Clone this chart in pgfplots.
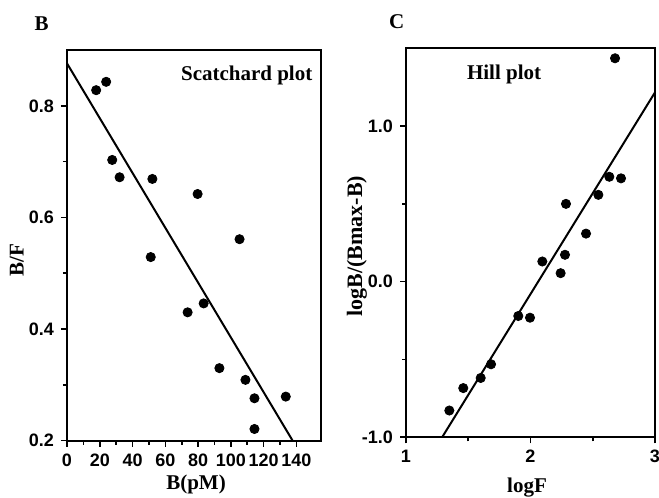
\documentclass[border=0pt]{standalone}
\usepackage{fontspec}
\setmainfont{Liberation Serif}
\newfontfamily\ticksf{Liberation Sans}
\usepackage{pgfplots}
\pgfplotsset{compat=1.18}

% Scatchard plot: B (pM) vs B/F
\pgfplotstableread{
x y
17.8 0.828
23.9 0.843
27.6 0.703
32.1 0.672
52.1 0.669
79.7 0.642
105.3 0.561
51.1 0.529
73.6 0.430
83.4 0.446
93.0 0.330
108.9 0.309
114.4 0.276
114.4 0.221
133.5 0.279
}\scatchard

% Hill plot: logF vs logB/(Bmax-B)
\pgfplotstableread{
x y
2.679 1.434
2.633 0.673
2.727 0.663
2.545 0.557
2.285 0.499
2.446 0.308
2.277 0.172
2.095 0.129
2.242 0.054
1.902 -0.221
1.996 -0.232
1.683 -0.531
1.600 -0.619
1.460 -0.684
1.348 -0.828
}\hill

\pgfplotsset{
  panel/.style={
    scale only axis,
    anchor=south west,
    axis line style={line width=1pt},
    tick align=outside,
    xtick pos=bottom, ytick pos=left,
    major tick length=3pt, minor tick length=2pt,
    every tick/.style={line width=0.8pt, black},
    minor tick num=1,
    /pgf/number format/assume math mode=true,
    tick label style={font=\ticksf\bfseries\fontsize{9}{10}\selectfont},
    label style={font=\bfseries\fontsize{10.5}{12}\selectfont},
    clip=false,
  },
  dots/.style={only marks, mark=*, mark size=2.3pt, black},
  fit/.style={no marks, black, line width=1pt},
}

\begin{document}
\begin{tikzpicture}
\useasboundingbox (0,0) rectangle (329.5pt,249pt);

\begin{axis}[panel,
  at={(33.5pt,28.65pt)}, width=127pt, height=195.35pt,
  xmin=0, xmax=155, ymin=0.2, ymax=0.9,
  xtick={0,20,...,140},
  ytick={0.2,0.4,0.6,0.8},
  yticklabel style={/pgf/number format/.cd, fixed, fixed zerofill, precision=1},
  xlabel={B(pM)}, ylabel={B/F},
  xlabel style={at={(rel axis cs:0.508,-0.113)}, anchor=center},
  ylabel style={at={(rel axis cs:-0.198,0.4625)}, anchor=center},
]
\addplot[dots] table[x=x,y=y] {\scatchard};
\addplot[fit] coordinates {(0,0.876) (137.7,0.2)};
\node[font=\bfseries\fontsize{10.5}{12}\selectfont] at (rel axis cs:0.7075,0.936) {Scatchard plot};
\end{axis}

\begin{axis}[panel,
  at={(203pt,30.35pt)}, width=124.5pt, height=194.65pt,
  xmin=1, xmax=3, ymin=-1, ymax=1.5,
  xtick={1,2,3},
  ytick={-1,0,1},
  yticklabel style={/pgf/number format/.cd, fixed, fixed zerofill, precision=1},
  xlabel={logF}, ylabel={logB/(Bmax-B)},
  xlabel style={at={(rel axis cs:0.486,-0.128)}, anchor=center},
  ylabel style={at={(rel axis cs:-0.197,0.491)}, anchor=center, font=\bfseries\fontsize{11}{12}\selectfont},
]
\addplot[dots] table[x=x,y=y] {\hill};
\addplot[fit] coordinates {(1.29,-1.0) (3.0,1.215)};
\node[font=\bfseries\fontsize{10.5}{12}\selectfont] at (rel axis cs:0.394,0.931) {Hill plot};
\end{axis}

\node[font=\bfseries\fontsize{10.5}{12}\selectfont] at (20.85pt,237.35pt) {B};
\node[font=\bfseries\fontsize{10.5}{12}\selectfont] at (198.35pt,238.15pt) {C};
\end{tikzpicture}
\end{document}
